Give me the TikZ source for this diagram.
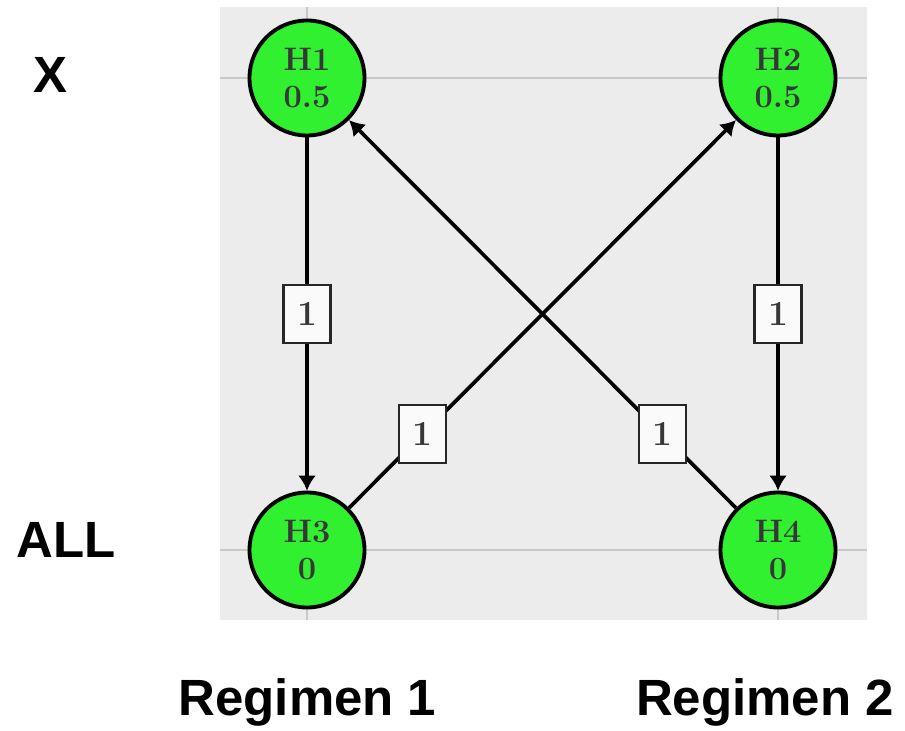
\documentclass[tikz,border=0pt]{standalone}
\usepackage{fontspec}
\setsansfont{Liberation Sans}
\usepackage{tikz}
\usetikzlibrary{arrows.meta, positioning}
\definecolor{hgreen}{RGB}{48,240,48}
\definecolor{panelgray}{RGB}{236,236,236}
\definecolor{gridgray}{RGB}{200,200,200}
\definecolor{txtgray}{RGB}{55,55,55}
\tikzset{hyp/.style={circle, draw=black, fill=hgreen, line width=2.2pt, minimum size=2.3cm, inner sep=0pt, align=center, text=txtgray, font=\fontsize{18.5}{21}\selectfont\bfseries},
         wlabel/.style={draw=black!85, fill=white!98!black, line width=1.3pt, minimum width=0.94cm, minimum height=1.16cm, inner sep=0pt, text=txtgray, font=\fontsize{20}{22}\selectfont\bfseries},
         trans/.style={line width=2.1pt, -{Latex[length=0.3cm, width=0.36cm]}},
         axlabel/.style={anchor=base, font=\sffamily\bfseries\fontsize{29}{32}\selectfont}}

\begin{document}
\begin{tikzpicture}
                 \useasboundingbox (0,0) rectangle (18.1,14.6);
                 % panel
                 \fill[panelgray] (4.4,2.2) rectangle (17.34,14.46);
                 \draw[gridgray, line width=0.8pt] (4.4,13.04) -- (17.34,13.04);
                 \draw[gridgray, line width=0.8pt] (4.4,3.6) -- (17.34,3.6);
                 \draw[gridgray, line width=0.8pt] (6.14,2.2) -- (6.14,14.46);
                 \draw[gridgray, line width=0.8pt] (15.56,2.2) -- (15.56,14.46);

                 \node[hyp] (H1) at (6.14,13.04) {H1\\0.5};
                 \node[hyp] (H2) at (15.56,13.04) {H2\\0.5};
                 \node[hyp] (H3) at (6.14,3.6) {H3\\0};
                 \node[hyp] (H4) at (15.56,3.6) {H4\\0};

                 \draw[trans] (H1) -- node[wlabel, pos=0.5] {1} (H3);
                 \draw[trans] (H2) -- node[wlabel, pos=0.5] {1} (H4);
                 \draw[trans] (H3) -- node[wlabel, pos=0.19] {1} (H2);
                 \draw[trans] (H4) -- node[wlabel, pos=0.19] {1} (H1);

                 % row and column names
                 \node[axlabel] (rowX) at (1.0,12.74) {X};
                 \node[axlabel] (rowALL) at (1.32,3.46) {ALL};
                 \node[axlabel] (reg1) at (6.15,0.3) {Regimen 1};
                 \node[axlabel] (reg2) at (15.3,0.3) {Regimen 2};
\end{tikzpicture}
\end{document}
